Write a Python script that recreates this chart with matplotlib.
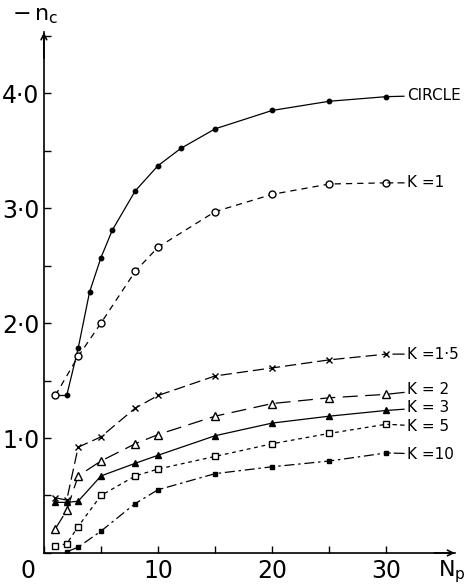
#!/usr/bin/env python

# Libraries

import matplotlib
matplotlib.use("Agg")
import matplotlib.pyplot as plt
from matplotlib.ticker import MultipleLocator, FixedLocator, FixedFormatter
from matplotlib.transforms import ScaledTranslation

# Data: -n_c against N_p

np_circle = [1, 2, 3, 4, 5, 6, 8, 10, 12, 15, 20, 25, 30]
nc_circle = [1.37, 1.37, 1.78, 2.27, 2.57, 2.81, 3.15, 3.37, 3.52, 3.69, 3.85, 3.93, 3.97]

np_k1 = [1, 3, 5, 8, 10, 15, 20, 25, 30]
nc_k1 = [1.37, 1.71, 2.00, 2.45, 2.66, 2.97, 3.12, 3.21, 3.22]

np_k = [1, 2, 3, 5, 8, 10, 15, 20, 25, 30]
nc_k15 = [0.48, 0.46, 0.92, 1.01, 1.26, 1.37, 1.54, 1.61, 1.68, 1.73]
nc_k2 = [0.21, 0.37, 0.67, 0.80, 0.95, 1.03, 1.19, 1.30, 1.35, 1.38]
nc_k3 = [0.44, 0.44, 0.45, 0.67, 0.78, 0.85, 1.02, 1.13, 1.19, 1.24]
nc_k5 = [0.06, 0.08, 0.23, 0.50, 0.67, 0.73, 0.84, 0.95, 1.04, 1.12]

np_k10 = [2, 3, 5, 8, 10, 15, 20, 25, 30]
nc_k10 = [0.01, 0.05, 0.19, 0.43, 0.55, 0.69, 0.75, 0.80, 0.87]

labels = ["CIRCLE", "K =1", "K =1·5", "K = 2", "K = 3", "K = 5", "K =10"]
label_y = [3.98, 3.22, 1.73, 1.42, 1.265, 1.10, 0.86]

y_ticks = [1, 2, 3, 4]
y_ticklabels = ["1·0", "2·0", "3·0", "4·0"]

# Plot

fig = plt.figure(figsize=(4.67, 5.87), dpi=100)
ax = fig.add_axes([0.094, 0.058, 0.88, 0.887])

series = [
    (np_circle, nc_circle, dict(ls="-", marker="o", ms=3.2, mfc="black")),
    (np_k1, nc_k1, dict(ls=(0, (5, 4)), marker="o", ms=5, mfc="white")),
    (np_k, nc_k15, dict(ls=(0, (9, 4)), marker="x", ms=5, mew=1)),
    (np_k, nc_k2, dict(ls=(0, (12, 6)), marker="^", ms=6, mfc="white")),
    (np_k, nc_k3, dict(ls="-", marker="^", ms=5, mfc="black")),
    (np_k, nc_k5, dict(ls=(0, (3, 3)), marker="s", ms=4, mfc="white")),
    (np_k10, nc_k10, dict(ls=(0, (8, 3, 2, 3)), marker="s", ms=3.5, mfc="black")),
]

for (xs, ys, style), lab, ly in zip(series, labels, label_y):
    ax.plot(xs, ys, color="black", lw=0.9, mec="black", **style)
    ax.annotate(lab, xy=(xs[-1], ys[-1]), xytext=(31.8, ly),
                va="center", ha="left", fontsize=11,
                arrowprops=dict(arrowstyle="-", lw=0.9, color="black",
                                ls=style["ls"], shrinkA=0, shrinkB=1))

ax.set_xlim(0, 36)
ax.set_ylim(0, 4.53)

for side in ["top", "right"]:
    ax.spines[side].set_visible(False)
ax.spines["left"].set_linewidth(1.2)
ax.spines["bottom"].set_linewidth(1.2)

# open arrow heads at the axis ends
ax.annotate("", xy=(1.0, 0), xytext=(0.95, 0), xycoords="axes fraction",
            arrowprops=dict(arrowstyle="->", lw=1.2, color="black", shrinkA=0, shrinkB=0))
ax.annotate("", xy=(0, 1.0), xytext=(0, 0.95), xycoords="axes fraction",
            arrowprops=dict(arrowstyle="->", lw=1.2, color="black", shrinkA=0, shrinkB=0))

ax.xaxis.set_major_locator(FixedLocator([0, 10, 20, 30]))
ax.xaxis.set_minor_locator(FixedLocator([5, 15, 25]))
ax.yaxis.set_major_locator(FixedLocator(y_ticks))
ax.yaxis.set_major_formatter(FixedFormatter(y_ticklabels))
ax.yaxis.set_minor_locator(MultipleLocator(0.5))

ax.tick_params(which="both", direction="in", length=5, width=1)
ax.tick_params(axis="x", which="major", labelsize=17, pad=4)
ax.tick_params(axis="y", which="major", labelsize=17, pad=3)

# the "0" sits left of the origin in the original
t0 = ax.xaxis.get_major_ticks()[0].label1
t0.set_transform(t0.get_transform() + ScaledTranslation(-16 / 100, 0, fig.dpi_scale_trans))

fig.text(0.025, 0.99, r"$-\,\mathregular{n_c}$", fontsize=16, ha="left", va="top")
fig.text(0.968, 0.004, r"$\mathregular{N_p}$", fontsize=16, ha="center", va="bottom")

plt.savefig("out.png", dpi=100)
